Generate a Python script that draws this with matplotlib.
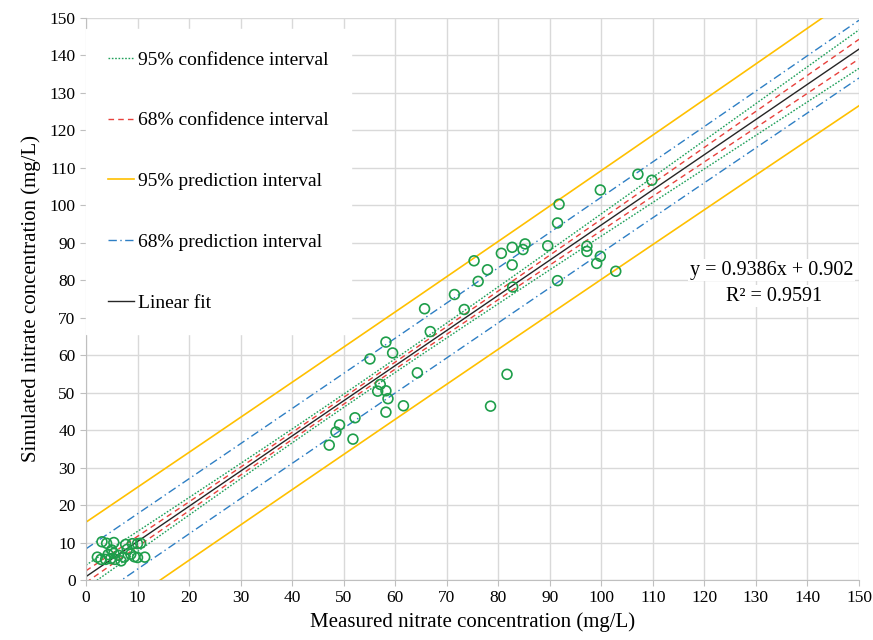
import numpy as np
import matplotlib
matplotlib.use("Agg")
import matplotlib.pyplot as plt

plt.rcParams['font.family'] = ['Liberation Serif', 'DejaVu Serif']

# Observed points (measured, simulated)
measured = [107.1, 109.8, 99.8, 91.8, 91.5, 89.6, 85.2, 82.7, 84.8, 80.6,
            75.3, 77.9, 82.7, 76.1, 97.2, 97.2, 99.8, 99.1, 102.8, 91.5,
            82.8, 71.5, 73.4, 65.7, 66.8, 58.2, 59.5, 55.1, 64.3, 81.7,
            57.1, 56.6, 58.2, 58.6, 61.6, 78.5, 58.2, 52.2, 49.2, 48.5,
            51.8, 47.2,
            3.1, 4.0, 5.4, 7.7, 9.0, 10.0, 10.6, 2.2, 2.9, 3.8,
            4.3, 4.8, 5.4, 5.6, 6.8, 7.4, 8.7, 9.4, 10.0, 11.4,
            6.3, 5.0, 8.0]
simulated = [108.3, 106.7, 104.1, 100.3, 95.3, 89.2, 89.7, 88.8, 88.2, 87.2,
             85.2, 82.8, 84.1, 79.7, 89.1, 87.7, 86.4, 84.5, 82.4, 79.9,
             78.2, 76.2, 72.2, 72.4, 66.3, 63.5, 60.6, 59.0, 55.3, 54.9,
             52.2, 50.4, 50.5, 48.4, 46.5, 46.4, 44.8, 43.3, 41.4, 39.5,
             37.6, 36.0,
             10.2, 9.8, 10.0, 9.5, 9.7, 9.7, 9.8, 6.1, 5.5, 5.5,
             6.8, 5.7, 7.1, 5.5, 5.1, 6.1, 6.9, 6.2, 6.0, 6.1,
             6.6, 8.0, 8.2]

slope = 0.9386
intercept = 0.902
std_err = 7.25          # residual standard error
r2_text = "R² = 0.9591"
eq_text = "y = 0.9386x + 0.902"

x = np.array(measured)
y = np.array(simulated)
n = len(x)
xbar = x.mean()
sxx = ((x - xbar) ** 2).sum()
s = std_err

xs = np.linspace(0, 150, 301)
fit = slope * xs + intercept
se_mean = s * np.sqrt(1.0 / n + (xs - xbar) ** 2 / sxx)
se_pred = s * np.sqrt(1.0 + 1.0 / n + (xs - xbar) ** 2 / sxx)
t95, t68 = 1.96, 1.0

fig = plt.figure(figsize=(8.73, 6.4), dpi=100)
ax = fig.add_axes([86 / 873, 1 - 580 / 640, (859 - 86) / 873, (580 - 18) / 640])

c_ci95 = '#1fa05a'
c_ci68 = '#e8413c'
c_pi95 = '#ffc000'
c_pi68 = '#2e7fc4'
c_fit = '#262626'

ax.plot(xs, fit + t95 * se_mean, color=c_ci95, ls=(0, (1.2, 1.2)), lw=1.0, label='95% confidence interval')
ax.plot(xs, fit - t95 * se_mean, color=c_ci95, ls=(0, (1.2, 1.2)), lw=1.0)
ax.plot(xs, fit + t68 * se_mean, color=c_ci68, ls=(0, (4, 3)), lw=1.0, label='68% confidence interval')
ax.plot(xs, fit - t68 * se_mean, color=c_ci68, ls=(0, (4, 3)), lw=1.0)
ax.plot(xs, fit + t95 * se_pred, color=c_pi95, ls='-', lw=1.2, label='95% prediction interval')
ax.plot(xs, fit - t95 * se_pred, color=c_pi95, ls='-', lw=1.2)
ax.plot(xs, fit + t68 * se_pred, color=c_pi68, ls=(0, (6, 2.5, 1, 2.5)), lw=1.0, label='68% prediction interval')
ax.plot(xs, fit - t68 * se_pred, color=c_pi68, ls=(0, (6, 2.5, 1, 2.5)), lw=1.0)
ax.plot(xs, fit, color=c_fit, lw=1.0, label='Linear fit')

ax.scatter(x, y, s=50, facecolors='none', edgecolors='#1e9e4a', linewidths=1.2, zorder=5)

ax.set_xlim(0, 150)
ax.set_ylim(0, 150)
ax.set_xticks(np.arange(0, 151, 10))
ax.set_yticks(np.arange(0, 151, 10))
ax.grid(True, color='#d9d9d9', lw=1.0)
ax.set_axisbelow(True)
for sp in ['top', 'right']:
    ax.spines[sp].set_visible(False)
for sp in ['left', 'bottom']:
    ax.spines[sp].set_color('#bfbfbf')
ax.tick_params(axis='both', labelsize=12.5, color='#bfbfbf', length=4, direction='out')

ax.set_xlabel('Measured nitrate concentration (mg/L)', fontsize=15, labelpad=4)
ax.set_ylabel('Simulated nitrate concentration (mg/L)', fontsize=15, labelpad=6)

leg = ax.legend(loc='upper left', bbox_to_anchor=(0.0, 0.981), fontsize=14,
                frameon=True, labelspacing=2.22, handlelength=1.3, handletextpad=0.2,
                borderpad=1.15, borderaxespad=0.0)
leg.get_frame().set_facecolor('white')
leg.get_frame().set_edgecolor('white')
leg.get_frame().set_alpha(1.0)
leg.get_frame().set_boxstyle('square', pad=0)

ax.text(133, 82.7, eq_text, ha='center', va='center', fontsize=14.5,
        bbox=dict(facecolor='white', edgecolor='none', pad=1))
ax.text(133.5, 75.8, r2_text, ha='center', va='center', fontsize=14.5,
        bbox=dict(facecolor='white', edgecolor='none', pad=1))

fig.savefig('out.png', dpi=100)
